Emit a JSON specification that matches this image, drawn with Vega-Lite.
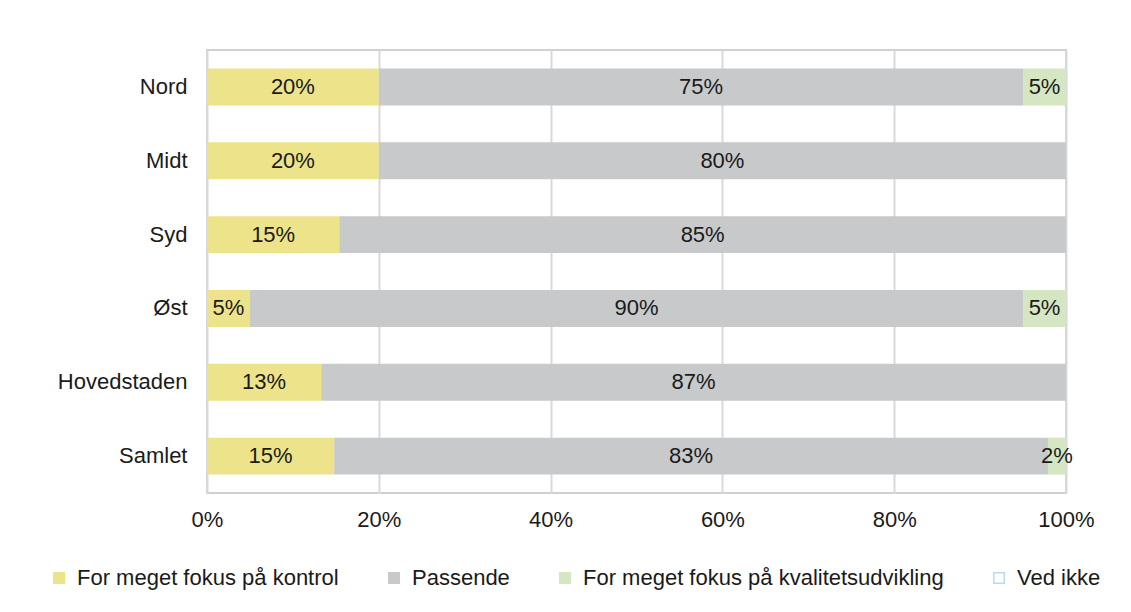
{
  "$schema": "https://vega.github.io/schema/vega-lite/v6.json",
  "width": 859,
  "height": 443,
  "autosize": {"type": "none"},
  "padding": {"left": 207, "top": 50, "right": 65, "bottom": 119},
  "background": "white",
  "config": {
    "font": "Liberation Sans",
    "view": {"stroke": "#d0d0d0", "strokeWidth": 2},
    "axis": {"labelFont": "Liberation Sans", "labelFontSize": 22, "labelColor": "#1a1a1a", "ticks": false, "domain": false, "title": null},
    "legend": {"labelFont": "Liberation Sans", "labelFontSize": 22, "labelColor": "#1a1a1a", "labelLimit": 1000}
  },
  "data": {
    "values": [
      {"region": "Nord", "cat": "For meget fokus på kontrol", "k": 1, "v": 0.20},
      {"region": "Nord", "cat": "Passende", "k": 2, "v": 0.75},
      {"region": "Nord", "cat": "For meget fokus på kvalitetsudvikling", "k": 3, "v": 0.05},
      {"region": "Midt", "cat": "For meget fokus på kontrol", "k": 1, "v": 0.20},
      {"region": "Midt", "cat": "Passende", "k": 2, "v": 0.80},
      {"region": "Syd", "cat": "For meget fokus på kontrol", "k": 1, "v": 0.154},
      {"region": "Syd", "cat": "Passende", "k": 2, "v": 0.846},
      {"region": "Øst", "cat": "For meget fokus på kontrol", "k": 1, "v": 0.05},
      {"region": "Øst", "cat": "Passende", "k": 2, "v": 0.90},
      {"region": "Øst", "cat": "For meget fokus på kvalitetsudvikling", "k": 3, "v": 0.05},
      {"region": "Hovedstaden", "cat": "For meget fokus på kontrol", "k": 1, "v": 0.133},
      {"region": "Hovedstaden", "cat": "Passende", "k": 2, "v": 0.867},
      {"region": "Samlet", "cat": "For meget fokus på kontrol", "k": 1, "v": 0.148},
      {"region": "Samlet", "cat": "Passende", "k": 2, "v": 0.831},
      {"region": "Samlet", "cat": "For meget fokus på kvalitetsudvikling", "k": 3, "v": 0.021}
    ]
  },
  "encoding": {
    "y": {
      "field": "region",
      "type": "nominal",
      "sort": ["Nord", "Midt", "Syd", "Øst", "Hovedstaden", "Samlet"],
      "scale": {"paddingInner": 0.5, "paddingOuter": 0.25},
      "axis": {"labelPadding": 20, "grid": false}
    },
    "x": {
      "field": "v",
      "type": "quantitative",
      "stack": "zero",
      "scale": {"domain": [0, 1], "nice": false},
      "axis": {"format": ".0%", "values": [0, 0.2, 0.4, 0.6, 0.8, 1], "labelPadding": 16, "grid": true, "gridColor": "#d9d9d9", "gridWidth": 2, "labelFlush": false}
    },
    "order": {"field": "k", "type": "quantitative"}
  },
  "layer": [
    {
      "mark": {"type": "bar", "strokeWidth": 0},
      "encoding": {
        "color": {
          "field": "cat",
          "type": "nominal",
          "scale": {
            "domain": ["For meget fokus på kontrol", "Passende", "For meget fokus på kvalitetsudvikling", "Ved ikke"],
            "range": ["#ece38b", "#c8c9cb", "#d4e6c2", "#ffffff"]
          },
          "legend": {
            "title": null,
            "orient": "none",
            "direction": "horizontal",
            "legendX": -159,
            "legendY": 517,
            "symbolType": "square",
            "symbolSize": 110,
            "symbolStrokeWidth": 1.5,
            "labelOffset": 7,
            "columnPadding": 44,
            "labelLimit": 1000
          }
        },
        "stroke": {
          "field": "cat",
          "type": "nominal",
          "scale": {
            "domain": ["For meget fokus på kontrol", "Passende", "For meget fokus på kvalitetsudvikling", "Ved ikke"],
            "range": ["#ece38b", "#c8c9cb", "#d4e6c2", "#b9dcec"]
          },
          "legend": {
            "title": null,
            "orient": "none",
            "direction": "horizontal",
            "legendX": -159,
            "legendY": 517,
            "symbolType": "square",
            "symbolSize": 110,
            "symbolStrokeWidth": 1.5,
            "labelOffset": 7,
            "columnPadding": 44,
            "labelLimit": 1000
          }
        }
      }
    },
    {
      "mark": {"type": "text", "fontSize": 22, "color": "#1a1a1a", "font": "Liberation Sans", "baseline": "middle", "align": "center"},
      "encoding": {
        "x": {"field": "v", "type": "quantitative", "stack": "zero", "bandPosition": 0.5},
        "text": {"field": "v", "type": "quantitative", "format": ".0%"}
      }
    }
  ]
}
